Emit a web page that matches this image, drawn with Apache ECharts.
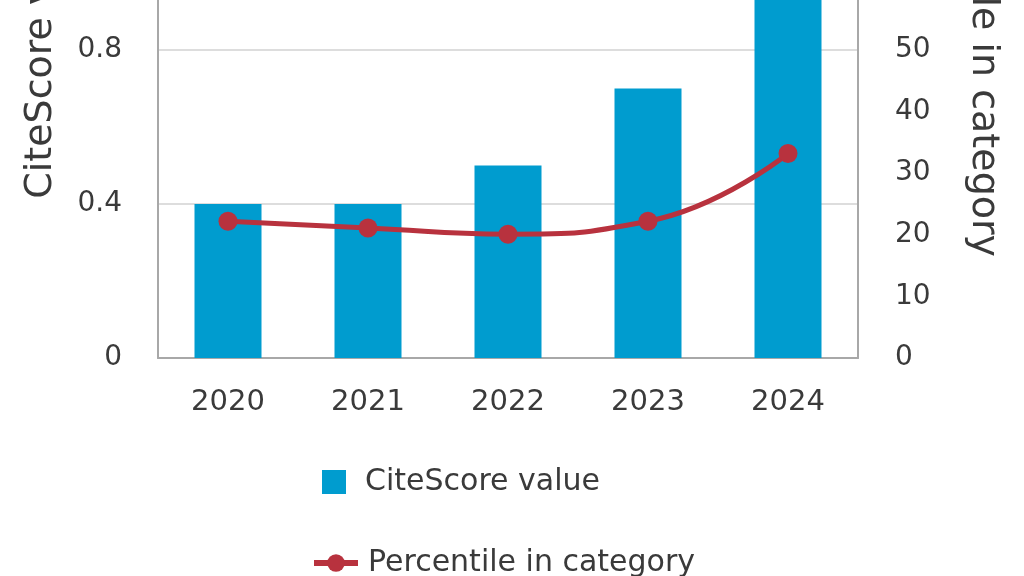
<!DOCTYPE html>
<html>
<head>
<meta charset="utf-8">
<script src="https://cdn.jsdelivr.net/npm/echarts@6/dist/echarts.min.js"></script>
<style>
  html, body { margin: 0; padding: 0; background: #fff; }
  #chart { width: 1024px; height: 576px; }
</style>
</head>
<body>
<div id="chart"></div>
<script>
var years = ['2020', '2021', '2022', '2023', '2024'];
var citeScore = [0.4, 0.4, 0.5, 0.7, 1.0];
var percentile = [22.2, 21.1, 20.1, 22.2, 33.2];

var font = '"DejaVu Sans", "Noto Sans", sans-serif';
var textColor = '#3a3a3a';

var chart = echarts.init(document.getElementById('chart'));
var option = {
  animation: false,
  textStyle: { fontFamily: font },
  // plot area runs above the top of the window, like the cropped original
  grid: { left: 158, right: 166, top: -258, bottom: 218, outerBoundsMode: 'none', containLabel: false },
  legend: [{
    // bar legend
    data: ['CiteScore value'],
    left: 322, top: 467, padding: 0,
    itemWidth: 24, itemHeight: 24,
    icon: 'rect',
    textStyle: { fontSize: 30, color: textColor, fontFamily: font, padding: [0, 0, 0, 14] }
  }, {
    // line legend
    data: ['Percentile in category'],
    left: 311, top: 548, padding: 0,
    itemWidth: 44, itemHeight: 22,
    lineStyle: { width: 6 },
    textStyle: { fontSize: 30, color: textColor, fontFamily: font, padding: [0, 0, 0, 5] }
  }],
  xAxis: {
    type: 'category',
    data: years,
    axisLine: { lineStyle: { color: '#a8a8a8', width: 2 } },
    axisTick: { show: false },
    axisLabel: { fontSize: 29, color: textColor, margin: 30 }
  },
  yAxis: [{
    type: 'value',
    min: 0, max: 1.6, interval: 0.4,
    name: 'CiteScore value',
    nameLocation: 'middle',
    nameGap: 98,
    nameTextStyle: { fontSize: 38, color: textColor },
    axisLine: { show: true, lineStyle: { color: '#a8a8a8', width: 2 } },
    axisTick: { show: false },
    axisLabel: { fontSize: 28, color: textColor, margin: 36 },
    splitLine: { lineStyle: { color: '#dddddd', width: 2 } }
  }, {
    type: 'value',
    min: 0, max: 100, interval: 10,
    name: 'Percentile in category',
    nameLocation: 'middle',
    nameGap: 106,
    nameRotate: -90,
    nameTextStyle: { fontSize: 38, color: textColor },
    axisLine: { show: true, lineStyle: { color: '#a8a8a8', width: 2 } },
    axisTick: { show: false },
    axisLabel: { fontSize: 28, color: textColor, margin: 37 },
    splitLine: { show: false }
  }],
  series: [{
    name: 'CiteScore value',
    type: 'bar',
    data: citeScore,
    barWidth: 67,
    itemStyle: { color: '#009ccf' }
  }, {
    name: 'Percentile in category',
    type: 'line',
    yAxisIndex: 1,
    data: percentile,
    smooth: true,
    symbol: 'circle',
    symbolSize: 19,
    lineStyle: { color: '#b8323e', width: 5 },
    itemStyle: { color: '#b8323e' }
  }]
};
chart.setOption(option);
</script>
</body>
</html>
